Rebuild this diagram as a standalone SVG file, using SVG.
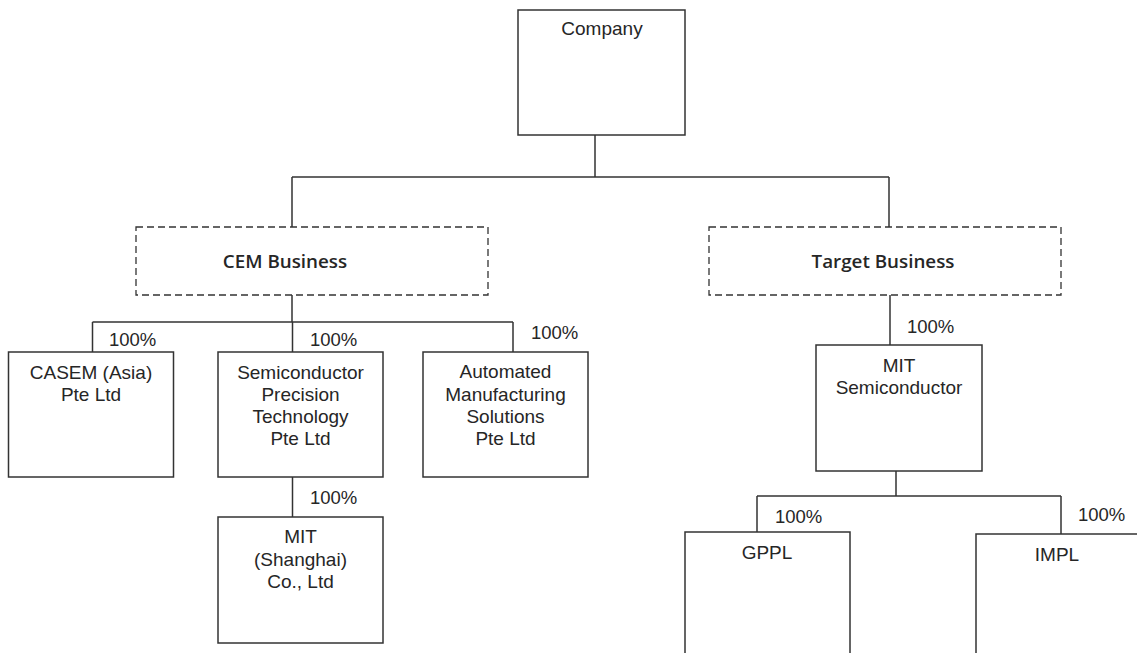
<svg xmlns="http://www.w3.org/2000/svg" width="1137" height="653" viewBox="0 0 1137 653">
<style>
.box{fill:#fff;stroke:#333;stroke-width:1.5}
.dash{fill:#fff;stroke:#333;stroke-width:1.3;stroke-dasharray:7,4}
.t{font-family:"Liberation Sans",Arial,sans-serif;font-size:19px;fill:#262626;text-anchor:middle}
.p{font-family:"Liberation Sans",Arial,sans-serif;font-size:18.5px;fill:#262626}
.b{font-family:"Open Sans","Noto Sans",sans-serif;font-size:18.8px;font-weight:600;fill:#262626;text-anchor:middle}
.c{fill:none;stroke:#333;stroke-width:1.5}
</style>
<rect width="1137" height="653" fill="#fff"/>
<g id="connectors">
<path class="c" d="M595,135V177M292,177H889M292,177V227M889,177V227"/>
<path class="c" d="M292,295V322M92.5,322H513M92.5,322V352M292.5,322V352M513,322V353"/>
<path class="c" d="M292.5,477V517"/>
<path class="c" d="M890,295V345"/>
<path class="c" d="M896,471V496M757,496H1061M757,496V532M1061,496V534"/>
</g>
<g id="labels">
<text class="p" x="109" y="346">100%</text>
<text class="p" x="310" y="346">100%</text>
<text class="p" x="531" y="339">100%</text>
<text class="p" x="310" y="504">100%</text>
<text class="p" x="907" y="333">100%</text>
<text class="p" x="775" y="523">100%</text>
<text class="p" x="1078" y="521">100%</text>
</g>
<g id="company">
<rect class="box" x="518" y="10" width="167" height="125"/>
<text class="t" x="602" y="35">Company</text>
</g>
<g id="cem">
<rect class="dash" x="136" y="227" width="352" height="68"/>
<text class="b" x="285" y="268">CEM Business</text>
</g>
<g id="target">
<rect class="dash" x="709" y="227" width="352" height="68"/>
<text class="b" x="883" y="268">Target Business</text>
</g>
<g id="casem">
<rect class="box" x="8.5" y="352" width="165" height="125"/>
<text class="t" x="91" y="379">CASEM (Asia)</text>
<text class="t" x="91" y="401">Pte Ltd</text>
</g>
<g id="spt">
<rect class="box" x="218" y="352" width="165" height="125"/>
<text class="t" x="300.5" y="379">Semiconductor</text>
<text class="t" x="300.5" y="401">Precision</text>
<text class="t" x="300.5" y="423">Technology</text>
<text class="t" x="300.5" y="445">Pte Ltd</text>
</g>
<g id="ams">
<rect class="box" x="423" y="352" width="165" height="125"/>
<text class="t" x="505.5" y="378">Automated</text>
<text class="t" x="505.5" y="401">Manufacturing</text>
<text class="t" x="505.5" y="423">Solutions</text>
<text class="t" x="505.5" y="445">Pte Ltd</text>
</g>
<g id="mitsh">
<rect class="box" x="218" y="517" width="165" height="126"/>
<text class="t" x="300.5" y="543">MIT</text>
<text class="t" x="300.5" y="566">(Shanghai)</text>
<text class="t" x="300.5" y="588">Co., Ltd</text>
</g>
<g id="mitsemi">
<rect class="box" x="816" y="345" width="166" height="126"/>
<text class="t" x="899" y="372">MIT</text>
<text class="t" x="899" y="394">Semiconductor</text>
</g>
<g id="gppl">
<rect class="box" x="685" y="532" width="165" height="130"/>
<text class="t" x="767" y="559">GPPL</text>
</g>
<g id="impl">
<rect class="box" x="976" y="534" width="170" height="130"/>
<text class="t" x="1057" y="561">IMPL</text>
</g>
</svg>
